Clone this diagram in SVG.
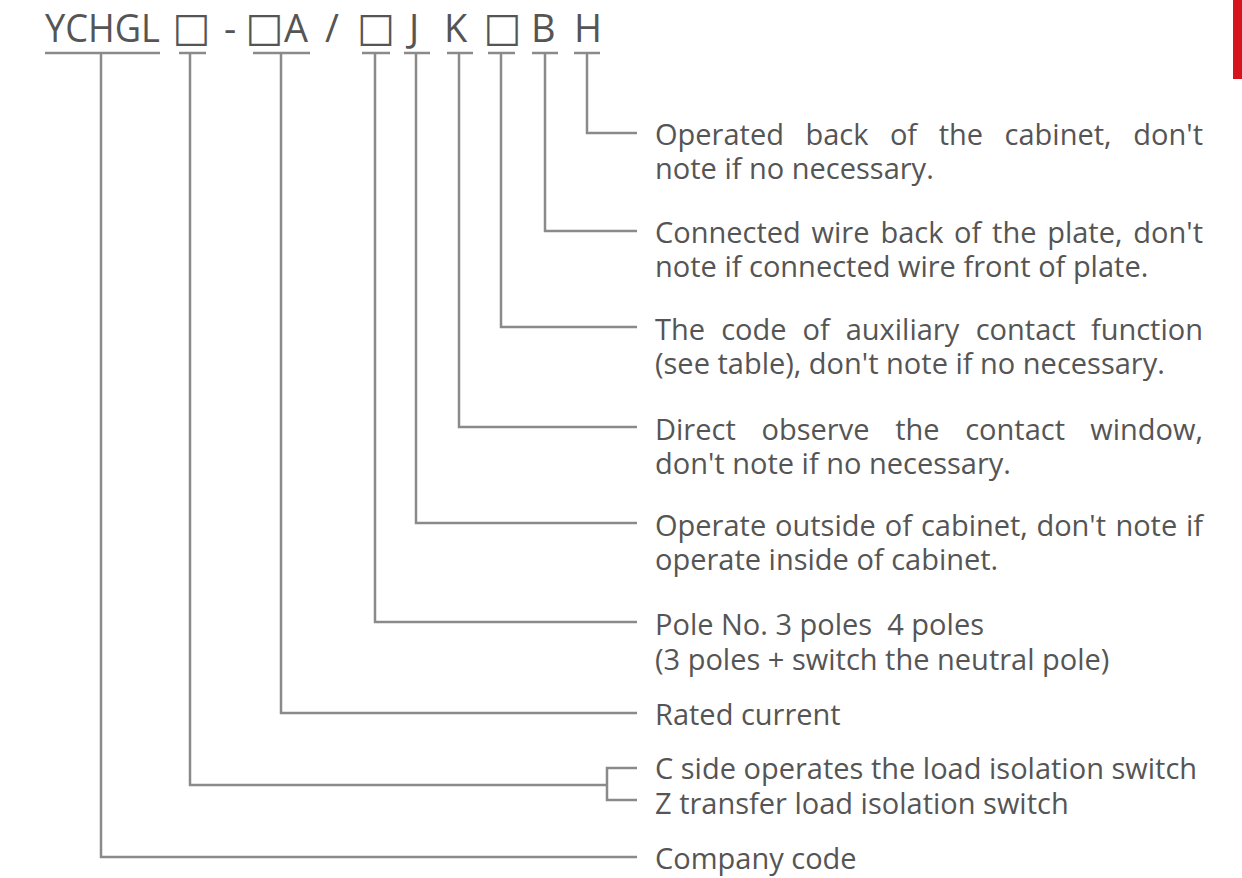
<svg xmlns="http://www.w3.org/2000/svg" width="1242" height="878" viewBox="0 0 1242 878">
<style>
.t{font-family:"Open Sans","DejaVu Sans",sans-serif;font-size:29px;fill:#555}
.h{font-family:"Open Sans","DejaVu Sans",sans-serif;font-size:38px;fill:#555}
.bx{font-family:"DejaVu Sans",sans-serif;font-size:40px;fill:#555}
.ln{stroke:#8a8a8a;stroke-width:2.5;fill:none}
.e{text-anchor:end}
</style>
<rect x="1233" y="0" width="9" height="79" fill="#d7141e"/>
<g id="code">
<text class="h" x="45" y="42" textLength="115" lengthAdjust="spacingAndGlyphs">YCHGL</text>
<text class="bx" x="172.5" y="41">□</text>
<text class="h" x="224" y="42">-</text>
<text class="bx" x="245.5" y="41">□</text>
<text class="h" x="284" y="42">A</text>
<text class="h" x="325" y="42">/</text>
<text class="bx" x="357" y="41">□</text>
<text class="h" x="409" y="42">J</text>
<text class="h" x="444" y="42">K</text>
<text class="bx" x="483.5" y="41">□</text>
<text class="h" x="531" y="42">B</text>
<text class="h" x="574" y="42">H</text>
</g>
<g id="connectors" class="ln">
<path d="M45 53H160M179 53H206M253 53H310M362 53H390M404 53H430M447 53H473M488 53H515M532 53H558M574 53H600"/>
<path d="M587 53V133H637"/>
<path d="M545 53V231H637"/>
<path d="M501 53V327H637"/>
<path d="M459 53V427H637"/>
<path d="M416 53V523H637"/>
<path d="M375 53V622H637"/>
<path d="M281 53V713H637"/>
<path d="M190 53V785H607"/>
<path d="M637 768H607V800H637"/>
<path d="M101 53V857H637"/>
</g>
<g id="n-h">
<text class="t"><tspan x="655" y="145">Operated</tspan><tspan x="805.4" y="145">back</tspan><tspan x="889.9" y="145">of</tspan><tspan x="938.7" y="145">the</tspan><tspan x="1004.6" y="145">cabinet,</tspan><tspan class="e" x="1203" y="145">don't</tspan><tspan x="655" y="179">note if no necessary.</tspan></text>
</g>
<g id="n-b">
<text class="t"><tspan x="655" y="243">Connected</tspan><tspan x="811.5" y="243">wire</tspan><tspan x="880.4" y="243">back</tspan><tspan x="954.1" y="243">of</tspan><tspan x="992.1" y="243">the</tspan><tspan x="1047.2" y="243">plate,</tspan><tspan class="e" x="1203" y="243">don't</tspan><tspan x="655" y="277">note if connected wire front of plate.</tspan></text>
</g>
<g id="n-aux">
<text class="t"><tspan x="655" y="340">The</tspan><tspan x="721.2" y="340">code</tspan><tspan x="802.5" y="340">of</tspan><tspan x="845.7" y="340">auxiliary</tspan><tspan x="975.7" y="340">contact</tspan><tspan class="e" x="1203" y="340">function</tspan><tspan x="655" y="374">(see table), don't note if no necessary.</tspan></text>
</g>
<g id="n-k">
<text class="t"><tspan x="655" y="440">Direct</tspan><tspan x="761.5" y="440">observe</tspan><tspan x="895.2" y="440">the</tspan><tspan x="965.2" y="440">contact</tspan><tspan class="e" x="1203" y="440">window,</tspan><tspan x="655" y="474">don't note if no necessary.</tspan></text>
</g>
<g id="n-j">
<text class="t"><tspan x="655" y="536">Operate</tspan><tspan x="775" y="536">outside</tspan><tspan x="884.8" y="536">of</tspan><tspan x="920.9" y="536">cabinet,</tspan><tspan x="1036.4" y="536">don't</tspan><tspan x="1115.4" y="536">note</tspan><tspan class="e" x="1203" y="536">if</tspan><tspan x="655" y="570">operate inside of cabinet.</tspan></text>
</g>
<g id="n-pole">
<text class="t" xml:space="preserve"><tspan x="655" y="635">Pole No. 3 poles  4 poles</tspan><tspan x="655" y="670">(3 poles + switch the neutral pole)</tspan></text>
</g>
<g id="n-a">
<text class="t" x="655" y="725">Rated current</text>
</g>
<g id="n-type">
<text class="t"><tspan x="655" y="779">C side operates the load isolation switch</tspan><tspan x="655" y="814">Z transfer load isolation switch</tspan></text>
</g>
<g id="n-company">
<text class="t" x="655" y="869">Company code</text>
</g>
</svg>
